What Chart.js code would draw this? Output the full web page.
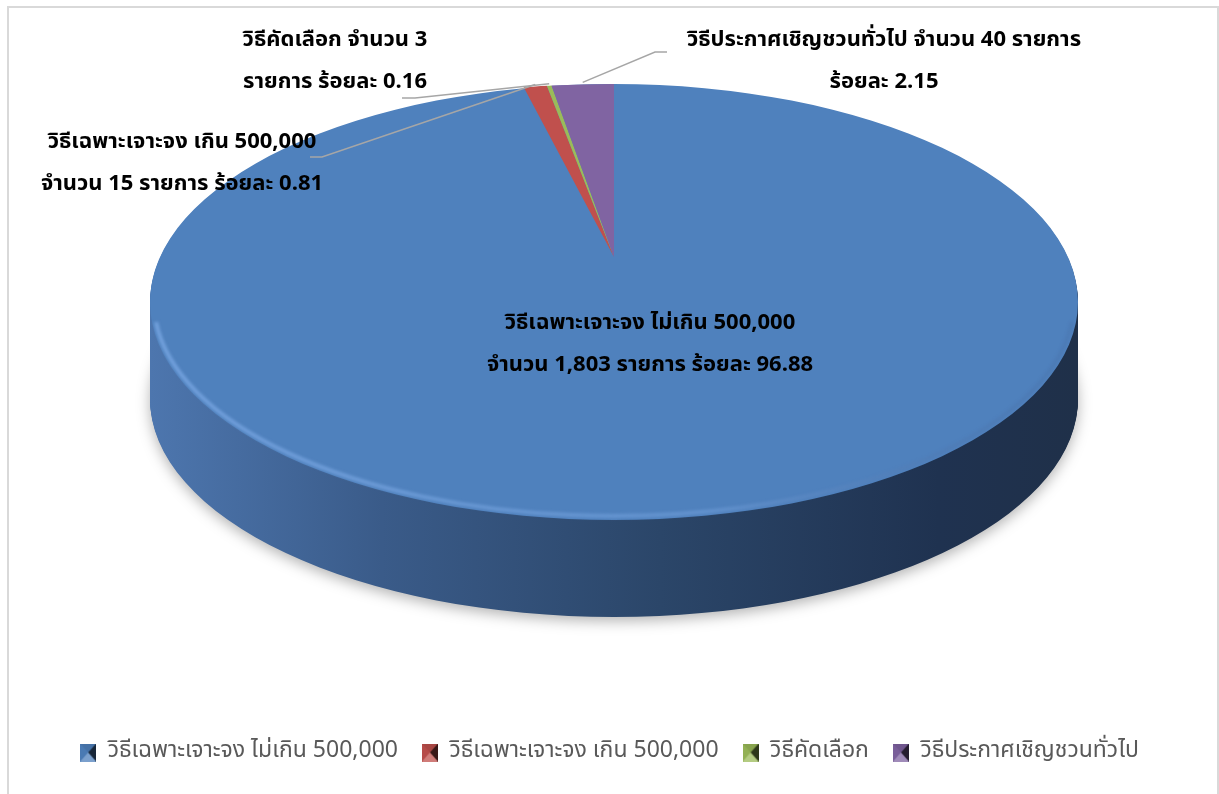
<!DOCTYPE html>
<html>
<head>
<meta charset="utf-8">
<script src="https://cdn.jsdelivr.net/npm/chart.js@4.4.0/dist/chart.umd.min.js"></script>
<style>
  html, body { margin: 0; padding: 0; background: #fff; }
  #wrap { width: 1219px; height: 794px; position: relative; }
</style>
</head>
<body>
<div id="wrap"><canvas id="chart"></canvas></div>
<script>
// data
const categories = [
  "วิธีเฉพาะเจาะจง ไม่เกิน 500,000",
  "วิธีเฉพาะเจาะจง เกิน 500,000",
  "วิธีคัดเลือก",
  "วิธีประกาศเชิญชวนทั่วไป"
];
const counts = [1803, 15, 3, 40];
const percents = [96.88, 0.81, 0.16, 2.15];

// style
const colors = ["#4f81bd", "#c0504d", "#9bbb59", "#8064a2"];
const sideColors = ["#2c4a6e", "#7a2f2d", "#5f7535", "#4d3c63"];
const FONT = "Tahoma, 'Leelawadee UI', 'Noto Sans Thai', 'Noto Sans', sans-serif";

// ellipse geometry of the 3d top face (screen px)
const CX = 614, CY = 302, RX = 464, RY = 218, DEPTH = 97;
const APEX_Y = 257; // perspective: slices meet higher than the ellipse centre

// label layout: centre of first line, words on line 1, leader path (label side)
const labelLayout = [
  { x: 650, y: 325, first: 3 },
  { x: 182, y: 144, first: 3, leader: [[310, 157], [322, 157]] },
  { x: 335, y: 42, first: 3, leader: [[402, 98], [415, 98]] },
  { x: 884, y: 42, first: 4, leader: [[667, 52], [655, 52]] }
];
const LINE_H = 42;

const nf = new Intl.NumberFormat("en-US");
function labelLines(i) {
  const words = (categories[i] + " จำนวน " + nf.format(counts[i]) +
    " รายการ ร้อยละ " + percents[i].toFixed(2)).split(" ");
  const n = labelLayout[i].first;
  return [words.slice(0, n).join(" "), words.slice(n).join(" ")];
}

function bevelIcon(color) {
  const w = 16, h = 18;
  const c = document.createElement("canvas");
  c.width = w; c.height = h;
  const g = c.getContext("2d");
  g.fillStyle = color; g.fillRect(0, 0, w, h);
  const tri = (pts, fill) => {
    g.beginPath(); g.moveTo(pts[0][0], pts[0][1]);
    pts.slice(1).forEach(p => g.lineTo(p[0], p[1]));
    g.closePath(); g.fillStyle = fill; g.fill();
  };
  const m = [w / 2, h / 2];
  tri([[0, 0], m, [0, h]], "rgba(0,0,0,0.05)");
  tri([[w, 0], m, [w, h]], "rgba(0,0,0,0.7)");
  tri([[0, h], m, [w, h]], "rgba(255,255,255,0.25)");
  tri([[0, 0], m, [w, 0]], "rgba(0,0,0,0.12)");
  return c;
}
const icons = colors.map(bevelIcon);

function drawArcAs(el, ctx, fill, full) {
  const o = Object.create(el);
  o.options = Object.assign({}, el.options, { backgroundColor: fill, borderWidth: 0 });
  if (full) { o.startAngle = el.startAngle; o.endAngle = el.startAngle + Math.PI * 2; o.circumference = Math.PI * 2; }
  el.draw.call(o, ctx);
}

const pie3d = {
  id: "pie3d",
  beforeDraw(chart) {
    const ctx = chart.ctx;
    ctx.save();
    ctx.strokeStyle = "#d9d9d9";
    ctx.lineWidth = 2;
    ctx.strokeRect(8, 7, 1210, 830);
    ctx.restore();
  },
  beforeDatasetsDraw(chart) {
    const ctx = chart.ctx;
    const meta = chart.getDatasetMeta(0);
    const el0 = meta.data[0];
    const R = el0.outerRadius;
    const toEllipse = (cy, ry) => {
      ctx.translate(CX, cy);
      ctx.scale(RX / R, ry / R);
      ctx.translate(-el0.x, -el0.y);
    };
    const grad = ctx.createLinearGradient(el0.x - R, 0, el0.x + R, 0);
    grad.addColorStop(0, "#4d76ae");
    grad.addColorStop(0.25, "#3a5b89");
    grad.addColorStop(0.55, "#2b4669");
    grad.addColorStop(0.85, "#1f3250");
    grad.addColorStop(1, "#1f3049");

    // side walls
    for (let d = DEPTH; d >= 1; d--) {
      ctx.save();
      if (d === DEPTH) {
        ctx.shadowColor = "rgba(0,0,0,0.3)";
        ctx.shadowBlur = 14;
        ctx.shadowOffsetY = 4;
      }
      ctx.translate(0, d);
      toEllipse(CY, RY);
      meta.data.forEach((el, i) => drawArcAs(el, ctx, i === 0 ? grad : sideColors[i]));
      ctx.restore();
    }
    // top face: largest slice as base, then the thin slices meeting at the apex
    ctx.save();
    toEllipse(CY, RY);
    drawArcAs(el0, ctx, colors[0], true);
    ctx.restore();
    ctx.save();
    toEllipse(APEX_Y, APEX_Y - (CY - RY));
    meta.data.forEach((el, i) => { if (i > 0) drawArcAs(el, ctx, colors[i]); });
    ctx.restore();

    // soft rim highlight along the front edge
    ctx.save();
    ctx.beginPath();
    ctx.ellipse(CX, CY, RX - 4, RY - 4, 0, Math.PI * 0.03, Math.PI * 0.97);
    const rg = ctx.createLinearGradient(CX - RX, 0, CX + RX, 0);
    rg.addColorStop(0, "rgba(130,175,235,0.7)");
    rg.addColorStop(0.6, "rgba(115,160,220,0.55)");
    rg.addColorStop(1, "rgba(60,90,140,0.15)");
    ctx.strokeStyle = rg;
    ctx.lineWidth = 4;
    ctx.filter = "blur(1.5px)";
    ctx.stroke();
    ctx.restore();
    return false;
  },
  afterDraw(chart) {
    const ctx = chart.ctx;
    const meta = chart.getDatasetMeta(0);
    const ryA = APEX_Y - (CY - RY);
    ctx.save();
    ctx.font = "bold 22px " + FONT;
    ctx.textAlign = "center";
    ctx.textBaseline = "middle";
    meta.data.forEach((el, i) => {
      const L = labelLayout[i];
      if (L.leader) {
        const a = (el.startAngle + el.endAngle) / 2;
        const px = CX + RX * Math.cos(a), py = APEX_Y + ryA * Math.sin(a);
        ctx.beginPath();
        ctx.strokeStyle = "#a6a6a6";
        ctx.lineWidth = 1.5;
        ctx.moveTo(L.leader[0][0], L.leader[0][1]);
        ctx.lineTo(L.leader[1][0], L.leader[1][1]);
        ctx.lineTo(px, py - 2);
        ctx.stroke();
      }
      ctx.fillStyle = "#000";
      labelLines(i).forEach((ln, k) => ctx.fillText(ln, L.x, L.y + k * LINE_H));
    });
    ctx.restore();
  }
};

new Chart(document.getElementById("chart"), {
  type: "pie",
  data: {
    labels: categories,
    datasets: [{
      data: counts,
      backgroundColor: colors,
      borderWidth: 0
    }]
  },
  options: {
    responsive: true,
    maintainAspectRatio: false,
    animation: false,
    layout: { padding: { top: 20, bottom: 20, left: 20, right: 20 } },
    plugins: {
      tooltip: { enabled: false },
      legend: {
        position: "bottom",
        labels: {
          usePointStyle: true,
          boxWidth: 16,
          boxHeight: 18,
          padding: 24,
          color: "#595959",
          font: { family: FONT, size: 23 },
          generateLabels(chart) {
            const base = Chart.overrides.pie.plugins.legend.labels.generateLabels(chart);
            return base.map((it, i) => Object.assign(it, { pointStyle: icons[i] }));
          }
        }
      }
    }
  },
  plugins: [pie3d]
});
</script>
</body>
</html>
